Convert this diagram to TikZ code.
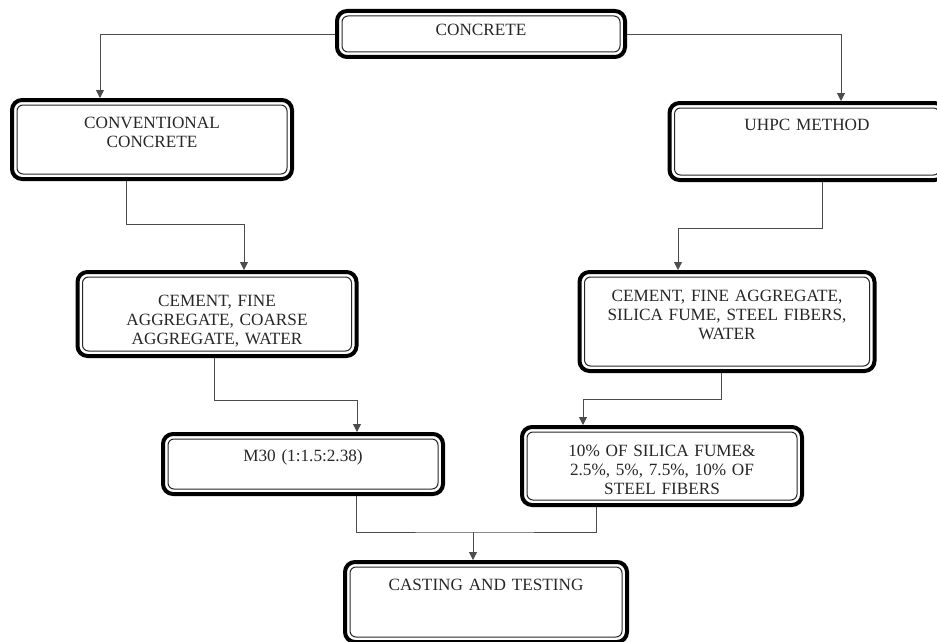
\documentclass[tikz,border=0pt]{standalone}
\usepackage{fontspec}
\setmainfont{Liberation Serif}
\usetikzlibrary{arrows.meta}
\begin{document}
\begin{tikzpicture}[x=1pt,y=-1pt,
    box/.style={draw, line width=4pt, rounded corners=10pt, inner sep=0pt,
      anchor=north, align=center, text=black!85,
      font=\fontsize{17.2}{19}\selectfont,
      path picture={\draw[line width=1pt, rounded corners=6pt, black!85]
        ([shift={(5pt,-5pt)}]path picture bounding box.north west) rectangle
        ([shift={(-5pt,5pt)}]path picture bounding box.south east);}},
    line/.style={draw, line width=0.8pt, black!70},
    arr/.style={line, -{Triangle[length=8pt,width=8pt]}}]
    \useasboundingbox (0,0) rectangle (937,642);

    \node[box, text width=288pt, text height=25pt, text depth=21pt] (concrete) at (481,9) {CONCRETE};

    \node[box, text width=280pt, text height=28pt, text depth=51pt] (conv) at (152,98) {CONVENTIONAL\\CONCRETE};
    \node[box, text width=275pt, text height=27pt, text depth=50pt] (uhpc) at (807,101) {UHPC METHOD};

    \node[box, text width=279pt, text height=34pt, text depth=50pt] (cemL) at (217,270) {CEMENT, FINE\\AGGREGATE, COARSE\\AGGREGATE, WATER};
    \node[box, text width=295pt, text height=29pt, text depth=70pt] (cemR) at (727,270) {CEMENT, FINE AGGREGATE,\\SILICA FUME, STEEL FIBERS,\\WATER};

    \node[box, text width=280pt, text height=27pt, text depth=33pt] (m30) at (303,432) {M30 (1:1.5:2.38)};
    \node[box, text width=280pt, text height=29pt, text depth=49pt] (fume) at (662,425) {10\% OF SILICA FUME\&\\2.5\%, 5\%, 7.5\%, 10\% OF\\STEEL FIBERS};

    \node[box, text width=282pt, text height=28pt, text depth=52pt] (cast) at (486,560) {CASTING AND TESTING};

    \coordinate (merge) at (473,532);

    \draw[arr] (concrete.west) -| ([xshift=-52pt]conv.north);
    \draw[arr] (concrete.east) -| ([xshift=34pt]uhpc.north);
    \draw[arr] ([xshift=-26pt]conv.south) -- ++(0,43) -| ([xshift=27pt]cemL.north);
    \draw[arr] ([xshift=15pt]uhpc.south) -- ++(0,46) -| ([xshift=-49pt]cemR.north);
    \draw[arr] ([xshift=-3pt]cemL.south) -- ++(0,42) -| ([xshift=54pt]m30.north);
    \draw[arr] ([xshift=-6pt]cemR.south) -- ++(0,26) -| ([xshift=-79pt]fume.north);
    \draw[line] ([xshift=53pt]m30.south) |- (merge) -| ([xshift=-66pt]fume.south);
    \draw[arr] (merge) -- (merge |- cast.north);
\end{tikzpicture}
\end{document}
